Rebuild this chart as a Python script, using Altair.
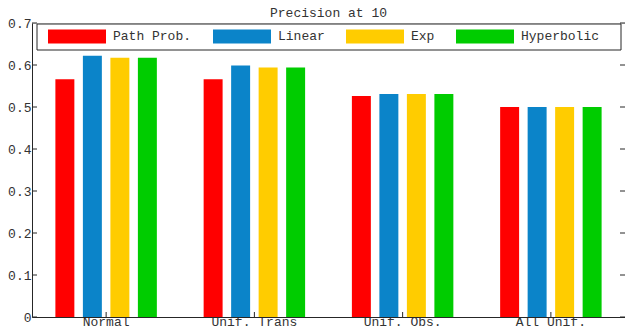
import altair as alt
import pandas as pd

# Grouped bar chart: precision at 10 for four weighting schemes
categories = ["Normal", "Unif. Trans", "Unif. Obs.", "All Unif."]
methods = ["Path Prob.", "Linear", "Exp", "Hyperbolic"]
colors = ["#FF0000", "#0B84C9", "#FFCC00", "#00CC00"]

path_prob = [0.566, 0.566, 0.526, 0.500]
linear = [0.622, 0.599, 0.531, 0.500]
exp = [0.617, 0.594, 0.531, 0.500]
hyperbolic = [0.617, 0.594, 0.531, 0.500]

y_ticks = [0, 0.1, 0.2, 0.3, 0.4, 0.5, 0.6, 0.7]

FONT = "Liberation Mono"
TEXT = "#333333"
LINE = "#262626"
W, H = 593, 294

series = {"Path Prob.": path_prob, "Linear": linear, "Exp": exp, "Hyperbolic": hyperbolic}
rows = []
for m in methods:
    for c, v in zip(categories, series[m]):
        rows.append({"category": c, "method": m, "value": v})
df = pd.DataFrame(rows)

x_scale = alt.Scale(paddingInner=0.258, paddingOuter=0.129)
y_scale = alt.Scale(domain=[0, 0.7], nice=False)

bars = alt.Chart(df).mark_bar().encode(
    x=alt.X("category:N", sort=categories, scale=x_scale,
            axis=alt.Axis(title=None, labelAngle=0, ticks=False, labelPadding=-2,
                          labelFont=FONT, labelFontSize=13, labelColor=TEXT,
                          domainColor=LINE, grid=False)),
    xOffset=alt.XOffset("method:N", sort=methods,
                        scale=alt.Scale(paddingInner=0.31, paddingOuter=0.155)),
    y=alt.Y("value:Q", scale=y_scale,
            axis=alt.Axis(title=None, values=y_ticks, ticks=False, labelPadding=1,
                          labelExpr="datum.value == 0 ? '0' : format(datum.value, '.1f')",
                          labelFont=FONT, labelFontSize=13, labelColor=TEXT,
                          domainColor=LINE, grid=False)),
    color=alt.Color("method:N", sort=methods,
                    scale=alt.Scale(domain=methods, range=colors),
                    legend=alt.Legend(title=None, orient="none", direction="horizontal",
                                      legendX=16, legendY=-16, columnPadding=21,
                                      symbolType="M-1,-0.2414H1V0.2414H-1Z",
                                      symbolSize=3364, symbolStrokeWidth=0,
                                      symbolOpacity=1, labelOffset=7,
                                      labelFont=FONT, labelFontSize=13,
                                      labelColor=TEXT, padding=0)),
)

tick_df = pd.DataFrame({"tick": y_ticks})
left_ticks = alt.Chart(tick_df).mark_rule(color=LINE).encode(
    y=alt.Y("tick:Q", scale=y_scale), x=alt.value(0), x2=alt.value(5))
right_ticks = alt.Chart(tick_df).mark_rule(color=LINE).encode(
    y=alt.Y("tick:Q", scale=y_scale), x=alt.value(W - 5), x2=alt.value(W))

cat_df = pd.DataFrame({"category": categories})
bottom_ticks = alt.Chart(cat_df).mark_rule(color=LINE).encode(
    x=alt.X("category:N", sort=categories, bandPosition=0.5),
    y=alt.value(H), y2=alt.value(H - 5))

legend_box = alt.Chart(pd.DataFrame({"k": [0]})).mark_rect(
    fill="white", stroke=LINE, strokeWidth=1).encode(
    x=alt.value(5), x2=alt.value(589), y=alt.value(1), y2=alt.value(27))

chart = alt.layer(bars, left_ticks, right_ticks, bottom_ticks, legend_box).properties(
    width=W, height=H,
    title=alt.TitleParams("Precision at 10", font=FONT, fontSize=13,
                          fontWeight="normal", color=TEXT, offset=6, dy=19,
                          anchor="middle"),
    padding={"left": 32, "top": 23, "right": 0, "bottom": 12},
    autosize=alt.AutoSizeParams(type="none"),
).configure_view(stroke=LINE, strokeWidth=1).configure(background="white")

chart.save("out.html", embed_options={"renderer": "svg", "actions": False})
